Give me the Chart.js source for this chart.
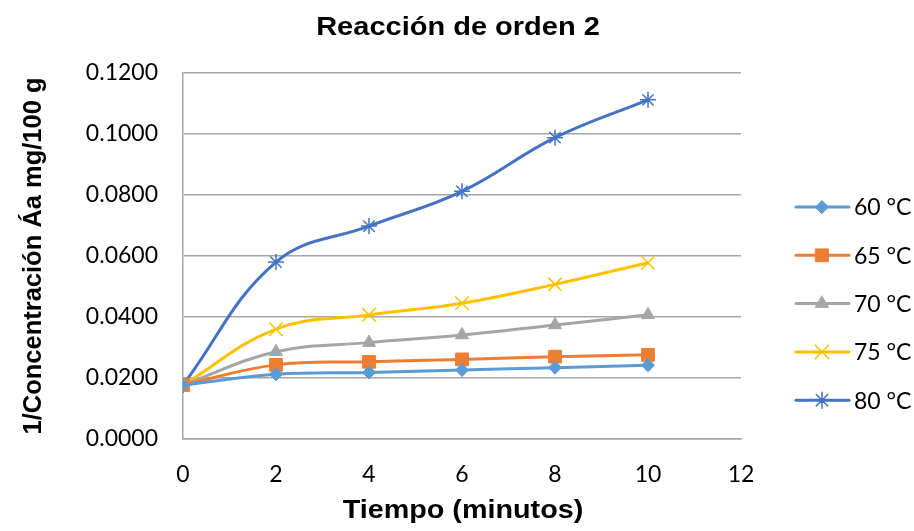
<!DOCTYPE html>
<html>
<head>
<meta charset="utf-8">
<script src="https://cdn.jsdelivr.net/npm/chart.js@4/dist/chart.umd.min.js"></script>
<style>
  html, body { margin: 0; padding: 0; background: #ffffff; }
  #wrap { width: 914px; height: 531px; }
</style>
</head>
<body>
<div id="wrap"><canvas id="c" width="914" height="531"></canvas></div>
<script>
const chartTitle = 'Reacción de orden 2';
const xTitle = 'Tiempo (minutos)';
const yTitle = '1/Concentración Áa mg/100 g';
const times = [0, 2, 4, 6, 8, 10];
const seriesNames = ['60 °C', '65 °C', '70 °C', '75 °C', '80 °C'];
const s60 = [0.0177, 0.0212, 0.0218, 0.0226, 0.0234, 0.0242];
const s65 = [0.0177, 0.0243, 0.0253, 0.0261, 0.0270, 0.0276];
const s70 = [0.0177, 0.0286, 0.0316, 0.0341, 0.0374, 0.0407];
const s75 = [0.0177, 0.0360, 0.0407, 0.0445, 0.0507, 0.0578];
const s80 = [0.0177, 0.0580, 0.0698, 0.0812, 0.0988, 0.1112];
const xTicks = [0, 2, 4, 6, 8, 10, 12];
const yTicks = [0, 0.02, 0.04, 0.06, 0.08, 0.10, 0.12];

const colors = ['#5B9BD5', '#ED7D31', '#A5A5A5', '#FFC000', '#4472C4'];
const styles = ['rectRot', 'rect', 'triangle', 'crossRot', 'star'];
const radii = [6.5, 9, 7.5, 9.5, 8];
const pbw = [1, 1, 1, 1.5, 1.5];
const allSeries = [s60, s65, s70, s75, s80];

const datasets = allSeries.map((vals, i) => ({
  label: seriesNames[i],
  data: times.map((t, j) => ({ x: t, y: vals[j] })),
  borderColor: colors[i],
  backgroundColor: colors[i],
  borderWidth: 3,
  tension: 0.4,
  pointStyle: styles[i],
  pointRadius: radii[i],
  pointHoverRadius: radii[i],
  pointBorderColor: colors[i],
  pointBackgroundColor: colors[i],
  pointBorderWidth: pbw[i],
  fill: false
}));

const decorPlugin = {
  id: 'decor',
  afterDraw(chart) {
    const ctx = chart.ctx;
    const area = chart.chartArea;
    ctx.save();
    // Titles (horizontally widened like the reference)
    ctx.fillStyle = '#000000';
    ctx.font = 'bold 25px "Liberation Sans"';
    ctx.textAlign = 'center';
    ctx.textBaseline = 'alphabetic';
    ctx.save();
    ctx.translate(chart.width / 2 + 1, 35);
    ctx.scale(1.16, 1);
    ctx.fillText(chartTitle, 0, 0);
    ctx.restore();
    ctx.save();
    ctx.translate((area.left + area.right) / 2 + 1, 518);
    ctx.scale(1.15, 1);
    ctx.fillText(xTitle, 0, 0);
    ctx.restore();

    // Legend
    const x0 = 796, x1 = 849, xm = 822, xt = 854;
    const yStart = 207, step = 48.3;
    chart.data.datasets.forEach((ds, i) => {
      const y = yStart + i * step;
      ctx.strokeStyle = ds.borderColor;
      ctx.lineWidth = 3;
      ctx.lineCap = 'round';
      ctx.beginPath();
      ctx.moveTo(x0, y);
      ctx.lineTo(x1, y);
      ctx.stroke();
      ctx.fillStyle = ds.pointBackgroundColor;
      ctx.strokeStyle = ds.pointBorderColor;
      ctx.lineWidth = ds.pointBorderWidth;
      Chart.helpers.drawPoint(ctx, { pointStyle: ds.pointStyle, radius: ds.pointRadius, rotation: 0, borderWidth: ds.pointBorderWidth }, xm, y);
      ctx.fillStyle = '#000000';
      ctx.font = '23px Lato';
      ctx.textBaseline = 'middle';
      ctx.textAlign = 'left';
      ctx.fillText(ds.label, xt, y + 1);
    });
    ctx.restore();
  }
};

new Chart(document.getElementById('c'), {
  type: 'line',
  data: { datasets },
  plugins: [decorPlugin],
  options: {
    responsive: false,
    animation: false,
    devicePixelRatio: 1,
    layout: { padding: { left: 0, right: 0, top: 73, bottom: 0 } },
    plugins: {
      legend: { display: false },
      tooltip: { enabled: false },
      title: { display: false }
    },
    scales: {
      x: {
        type: 'linear',
        min: 0, max: 12,
        afterBuildTicks(scale) { scale.ticks = xTicks.map(v => ({ value: v })); },
        afterFit(scale) { scale.height = 92; },
        grid: { display: false, drawTicks: false },
        border: { display: true, color: '#a6a6a6', width: 1.5 },
        ticks: {
          color: '#000000',
          font: { family: 'Lato', size: 23 },
          padding: 22,
          callback: v => String(v)
        },
        title: { display: false }
      },
      y: {
        type: 'linear',
        position: 'left',
        min: 0, max: 0.12,
        afterBuildTicks(scale) { scale.ticks = yTicks.map(v => ({ value: v })); },
        afterFit(scale) { scale.width = 183; },
        grid: { color: '#a6a6a6', lineWidth: 1.5, drawTicks: false },
        border: { display: true, color: '#a6a6a6', width: 1.5 },
        ticks: {
          color: '#000000',
          font: { family: 'Lato', size: 23 },
          padding: 25,
          callback: v => v.toFixed(4)
        },
        title: {
          display: true,
          text: yTitle,
          color: '#000000',
          font: { family: 'Liberation Sans', size: 25.5, weight: 'bold' },
          padding: { top: 19, bottom: 0 }
        }
      },
      legendSpace: {
        type: 'linear',
        position: 'right',
        display: true,
        afterFit(scale) { scale.width = 173; },
        grid: { display: false, drawTicks: false },
        border: { display: false },
        ticks: { display: false },
        title: { display: false }
      }
    }
  }
});
</script>
</body>
</html>
